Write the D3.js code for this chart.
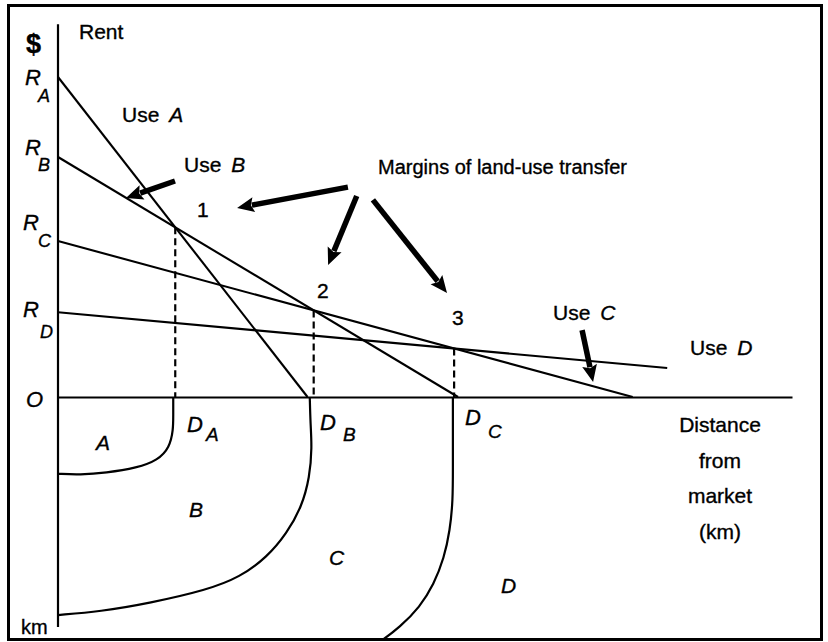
<!DOCTYPE html>
<html><head><meta charset="utf-8">
<script src="https://cdn.jsdelivr.net/npm/d3@7"></script>
<style>body{margin:0;background:#fff}text{font-family:"Liberation Sans",Arial,sans-serif;fill:#000;stroke:#000;stroke-width:0.35px}</style>
</head><body>
<svg id="c" width="828" height="642"></svg>
<script>
// ---------- data ----------
const uses = ["A", "B", "C", "D"];
const rentAtMarket = [100, 75, 48.75, 26.5];        // R_A .. R_D
const zeroRentDistance = [34, 54.5, 78.3, 126];     // where each bid-rent line reaches 0
const drawnToDistance = [34, 54.5, 78.3, 83];       // extent of each drawn line
// ring boundaries in the lower (map) half: [distance east, distance south]
const ringA = [[15.7,0],[15.7,8],[15.7,14.3],[15.2,22],[13.6,27.5],[10.8,30.8],[6.5,33],[3,33.8],[0,33.4]];
const ringB = [[34.3,0],[34.4,12],[34.6,21.7],[34.3,34.8],[33.2,47.8],[31.2,59.1],[28.5,69.6],[24.8,78.3],[20.3,83.9],[12.5,89.6],[5.7,93.3],[0,94.8]];
const ringC = [[53.8,0],[53.8,15],[53.8,30],[53.8,45],[53.4,58],[52.6,70],[51.2,81.5],[49.3,91.3],[46.6,100],[43.9,106.5],[40.5,113]];
// annotation arrows, [distance, rent] from -> to
const arrows = [
  [[15.94,67.5],[9.26,62.2]],
  [[39.5,65.6],[24.4,59.1]],
  [[40.7,62.8],[36.8,41.25]],
  [[42.9,61.6],[53,32.5]],
  [[71.4,20.9],[72.9,4.7]]
];

// ---------- scales ----------
const svg = d3.select("#c");
const x = d3.scaleLinear([0, 100], [58, 792]);
const y = d3.scaleLinear([0, 100], [397, 77]);
const ys = d3.scaleLinear([0, 100], [397, 627]);

// frame
svg.append("rect").attr("x", 8.5).attr("y", 5.5).attr("width", 813).attr("height", 634)
  .attr("fill", "none").attr("stroke", "#000").attr("stroke-width", 3);
svg.append("clipPath").attr("id", "clip").append("rect")
  .attr("x", 10).attr("y", 7).attr("width", 810).attr("height", 631);

// axes
const xAxis = d3.axisBottom(x).tickValues([]).tickSizeOuter(0);
svg.append("g").attr("transform", `translate(0,${y(0)})`).call(xAxis)
  .select(".domain").attr("stroke-width", 2.2);
svg.append("line").attr("x1", x(0)).attr("x2", x(0)).attr("y1", y(116.5)).attr("y2", ys(100))
  .attr("stroke", "#000").attr("stroke-width", 2.2);

// bid-rent lines
const rent = (i, d) => rentAtMarket[i] * (1 - d / zeroRentDistance[i]);
const line = d3.line().x(p => x(p[0])).y(p => y(p[1]));
uses.forEach((u, i) => {
  svg.append("path").attr("d", line([[0, rent(i, 0)], [drawnToDistance[i], rent(i, drawnToDistance[i])]]))
    .attr("fill", "none").attr("stroke", "#000").attr("stroke-width", 2.1);
});

// intersections (margins of transfer)
const margins = [];
for (let i = 0; i < 3; i++) {
  const a = rentAtMarket[i], za = zeroRentDistance[i], b = rentAtMarket[i+1], zb = zeroRentDistance[i+1];
  const d = (a - b) / (a / za - b / zb);
  margins.push([d, rent(i, d)]);
}
margins.forEach(m => {
  svg.append("line").attr("x1", x(m[0])).attr("x2", x(m[0])).attr("y1", y(m[1])).attr("y2", y(0))
    .attr("stroke", "#000").attr("stroke-width", 2.2).attr("stroke-dasharray", "7,4");
});

// rings
const ringLine = d3.line().x(p => x(p[0])).y(p => ys(p[1])).curve(d3.curveBasis);
[ringA, ringB, ringC].forEach(r => {
  svg.append("path").attr("d", ringLine(r)).attr("clip-path", "url(#clip)")
    .attr("fill", "none").attr("stroke", "#000").attr("stroke-width", 2.2);
});

// arrows
arrows.forEach(([f, t]) => {
  const x1 = x(f[0]), y1 = y(f[1]), x2 = x(t[0]), y2 = y(t[1]);
  const dx = x2 - x1, dy = y2 - y1, L = Math.hypot(dx, dy), ux = dx / L, uy = dy / L;
  const hl = 17, hw = 7.5;
  const bx = x2 - ux * hl, by = y2 - uy * hl;
  svg.append("line").attr("x1", x1).attr("y1", y1).attr("x2", bx + ux * 2).attr("y2", by + uy * 2)
    .attr("stroke", "#000").attr("stroke-width", 5.5);
  svg.append("path").attr("d", `M${x2},${y2}L${bx - uy * hw},${by + ux * hw}L${bx + ux*3},${by + uy*3}L${bx + uy * hw},${by - ux * hw}Z`)
    .attr("fill", "#000");
});

// ---------- text ----------
function txt(s, px, py, opt = {}) {
  const t = svg.append("text").attr("x", px).attr("y", py)
    .attr("font-size", opt.size || 21).text(s);
  if (opt.italic) t.attr("font-style", "italic");
  if (opt.bold) t.attr("font-weight", "bold");
  if (opt.anchor) t.attr("text-anchor", opt.anchor);
  return t;
}
function useLabel(letter, px, py) {
  const t = svg.append("text").attr("x", px).attr("y", py).attr("font-size", 21);
  t.append("tspan").text("Use ");
  t.append("tspan").attr("font-style", "italic").attr("dx", 4).text(letter);
}
txt("$", 26, 53, {size: 27, bold: true});
txt("Rent", 79, 39);
const rLabels = [[25, 85, 38, 102], [25, 155, 38, 171], [23, 230, 38, 247], [23, 317, 40, 338]];
uses.forEach((u, i) => {
  const p = rLabels[i];
  txt("R", p[0], p[1], {italic: true, size: 22});
  txt(u, p[2], p[3], {italic: true, size: 18});
});
txt("O", 26, 407, {italic: true, size: 22});
txt("km", 21, 634, {size: 20});

useLabel("A", 122, 122);
useLabel("B", 184, 172);
useLabel("C", 553, 320);
useLabel("D", 690, 355);
txt("Margins of land-use transfer", 378, 174, {size: 20});
txt("1", 197, 217);
txt("2", 317, 298);
txt("3", 452, 325);

const dLabels = [[187, 432, 206, 441], [320, 430, 343, 441], [465, 425, 488, 438]];
["A", "B", "C"].forEach((u, i) => {
  const p = dLabels[i];
  txt("D", p[0], p[1], {italic: true, size: 22});
  txt(u, p[2], p[3], {italic: true, size: 19});
});
txt("A", 96, 450, {italic: true});
txt("B", 189, 517, {italic: true});
txt("C", 329, 565, {italic: true});
txt("D", 501, 593, {italic: true});

["Distance", "from", "market", "(km)"].forEach((s, i) => {
  txt(s, 720, 432 + i * 35.5, {anchor: "middle", size: 21});
});
</script>
</body></html>
